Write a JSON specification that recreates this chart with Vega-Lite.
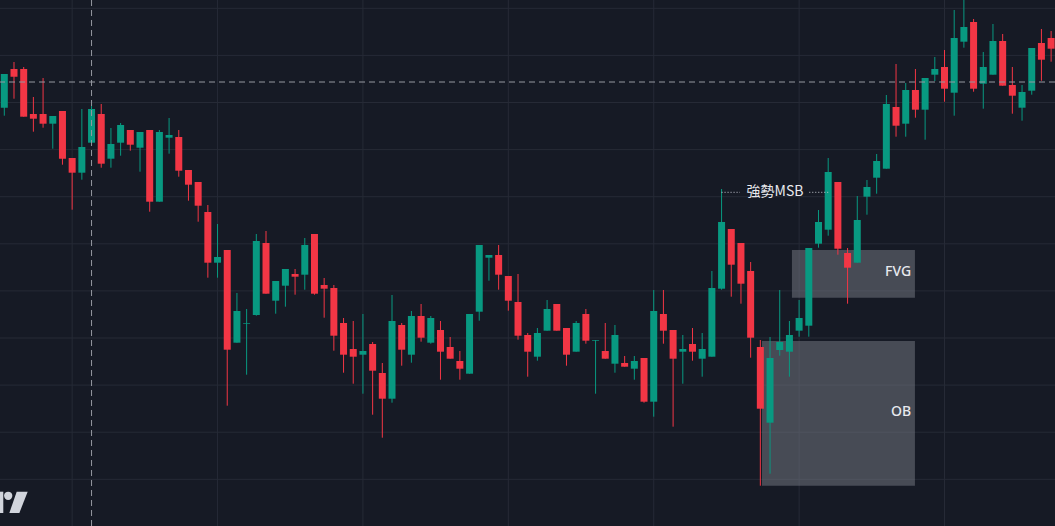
{
  "$schema": "https://vega.github.io/schema/vega-lite/v6.json",
  "width": 1055,
  "height": 526,
  "padding": 0,
  "autosize": {"type": "none"},
  "background": "#161A25",
  "config": {
    "view": {"stroke": null}
  },
  "datasets": {
    "candles": [
      {"i":0,"o":892.3,"h":926,"l":884.3,"c":926},
      {"i":1,"o":931,"h":938,"l":901.3,"c":923.3},
      {"i":2,"o":931,"h":933,"l":883.3,"c":883.3},
      {"i":3,"o":886,"h":903,"l":868.3,"c":881.3},
      {"i":4,"o":886,"h":922,"l":872.3,"c":876.3},
      {"i":5,"o":876.3,"h":884,"l":851.3,"c":884},
      {"i":6,"o":889,"h":889,"l":835.3,"c":841.3},
      {"i":7,"o":842,"h":842,"l":790.3,"c":827.3},
      {"i":8,"o":827.3,"h":891,"l":820.3,"c":853},
      {"i":9,"o":857.3,"h":894,"l":857.3,"c":891},
      {"i":10,"o":886,"h":896,"l":832.3,"c":836.3},
      {"i":11,"o":841.3,"h":872,"l":832.3,"c":856},
      {"i":12,"o":857.3,"h":877,"l":844.3,"c":875},
      {"i":13,"o":870,"h":870,"l":849.3,"c":855.3},
      {"i":14,"o":852.3,"h":868,"l":828.3,"c":868},
      {"i":15,"o":870,"h":870,"l":788.3,"c":798.3},
      {"i":16,"o":798.3,"h":870,"l":798.3,"c":868},
      {"i":17,"o":862.3,"h":882,"l":846.3,"c":865},
      {"i":18,"o":863,"h":870,"l":823.3,"c":829.3},
      {"i":19,"o":830,"h":830,"l":799.3,"c":815.3},
      {"i":20,"o":818,"h":818,"l":778.3,"c":794.3},
      {"i":21,"o":788,"h":795,"l":722.3,"c":737.3},
      {"i":22,"o":737.3,"h":776,"l":722.3,"c":743},
      {"i":23,"o":750,"h":750,"l":594.3,"c":650.3},
      {"i":24,"o":657.3,"h":707,"l":657.3,"c":689},
      {"i":25,"o":676.3,"h":691,"l":625.3,"c":677},
      {"i":26,"o":685,"h":766,"l":684.3,"c":759},
      {"i":27,"o":757,"h":769,"l":706.3,"c":706.3},
      {"i":28,"o":699.3,"h":719,"l":686.3,"c":719},
      {"i":29,"o":714.3,"h":731,"l":693.3,"c":731},
      {"i":30,"o":726,"h":731,"l":705.3,"c":723.3},
      {"i":31,"o":725.3,"h":762,"l":710.3,"c":755},
      {"i":32,"o":766,"h":766,"l":705.3,"c":706.3},
      {"i":33,"o":715,"h":722,"l":682.3,"c":711.3},
      {"i":34,"o":712,"h":715,"l":649.3,"c":664.3},
      {"i":35,"o":677,"h":682,"l":627.3,"c":645.3},
      {"i":36,"o":651,"h":679,"l":616.3,"c":643.3},
      {"i":37,"o":645.3,"h":686,"l":606.3,"c":649},
      {"i":38,"o":656,"h":658,"l":585.3,"c":629.3},
      {"i":39,"o":627,"h":637,"l":562.3,"c":601.3},
      {"i":40,"o":601.3,"h":705,"l":597.3,"c":679},
      {"i":41,"o":675,"h":677,"l":634.3,"c":650.3},
      {"i":42,"o":645.3,"h":689,"l":637.3,"c":684},
      {"i":43,"o":684,"h":696,"l":658.3,"c":662.3},
      {"i":44,"o":657.3,"h":684,"l":656.3,"c":682},
      {"i":45,"o":670,"h":679,"l":620.3,"c":648.3},
      {"i":46,"o":653,"h":663,"l":641.3,"c":641.3},
      {"i":47,"o":639,"h":649,"l":620.3,"c":631.3},
      {"i":48,"o":626.3,"h":686,"l":626.3,"c":686},
      {"i":49,"o":688.3,"h":755,"l":679.3,"c":755},
      {"i":50,"o":742.3,"h":745,"l":719.3,"c":745},
      {"i":51,"o":745,"h":755,"l":710.3,"c":725.3},
      {"i":52,"o":724,"h":724,"l":689.3,"c":699.3},
      {"i":53,"o":698,"h":726,"l":660.3,"c":664.3},
      {"i":54,"o":665,"h":667,"l":623.3,"c":648.3},
      {"i":55,"o":643.3,"h":672,"l":639.3,"c":667},
      {"i":56,"o":669.3,"h":700,"l":669.3,"c":691},
      {"i":57,"o":696,"h":696,"l":669.3,"c":669.3},
      {"i":58,"o":672,"h":672,"l":634.3,"c":645.3},
      {"i":59,"o":648.3,"h":679,"l":648.3,"c":677},
      {"i":60,"o":686,"h":691,"l":656.3,"c":659.3},
      {"i":61,"o":659.3,"h":660,"l":606.3,"c":660},
      {"i":62,"o":649,"h":677,"l":641.3,"c":641.3},
      {"i":63,"o":636.3,"h":675,"l":627.3,"c":665},
      {"i":64,"o":637,"h":644,"l":633.3,"c":633.3},
      {"i":65,"o":631.3,"h":644,"l":620.3,"c":639},
      {"i":66,"o":642,"h":642,"l":597.3,"c":598.3},
      {"i":67,"o":598.3,"h":710,"l":583.3,"c":689},
      {"i":68,"o":686,"h":710,"l":656.3,"c":669.3},
      {"i":69,"o":670,"h":670,"l":573.3,"c":641.3},
      {"i":70,"o":648.3,"h":665,"l":616.3,"c":651},
      {"i":71,"o":656,"h":672,"l":639.3,"c":648.3},
      {"i":72,"o":641.3,"h":667,"l":623.3,"c":651},
      {"i":73,"o":643.3,"h":729,"l":643.3,"c":712},
      {"i":74,"o":711.3,"h":811,"l":710.3,"c":778},
      {"i":75,"o":771,"h":771,"l":703.3,"c":735.3},
      {"i":76,"o":757,"h":757,"l":696.3,"c":716.3},
      {"i":77,"o":729,"h":738,"l":642.3,"c":662.3},
      {"i":78,"o":653,"h":660,"l":514.3,"c":591.3},
      {"i":79,"o":577.3,"h":663,"l":526.3,"c":642},
      {"i":80,"o":650,"h":710,"l":644.3,"c":658},
      {"i":81,"o":648.3,"h":679,"l":623.3,"c":665},
      {"i":82,"o":669.3,"h":700,"l":663.3,"c":682},
      {"i":83,"o":674.3,"h":752,"l":663.3,"c":752},
      {"i":84,"o":756.3,"h":790,"l":752.3,"c":778},
      {"i":85,"o":770.3,"h":842,"l":764.3,"c":828},
      {"i":86,"o":818,"h":818,"l":745.3,"c":751.3},
      {"i":87,"o":747,"h":752,"l":696.3,"c":732.3},
      {"i":88,"o":737.3,"h":804,"l":737.3,"c":780},
      {"i":89,"o":803.3,"h":820,"l":785.3,"c":813},
      {"i":90,"o":822.3,"h":846,"l":806.3,"c":839},
      {"i":91,"o":831.3,"h":905,"l":831.3,"c":896},
      {"i":92,"o":893,"h":936,"l":863.3,"c":874.3},
      {"i":93,"o":876.3,"h":917,"l":863.3,"c":910},
      {"i":94,"o":910,"h":931,"l":882.3,"c":890.3},
      {"i":95,"o":890.3,"h":922,"l":860.3,"c":922},
      {"i":96,"o":925.3,"h":943,"l":919,"c":931},
      {"i":97,"o":933,"h":950,"l":898.3,"c":911.3},
      {"i":98,"o":907.3,"h":990,"l":884.3,"c":962},
      {"i":99,"o":958.3,"h":1003,"l":952.3,"c":973},
      {"i":100,"o":978,"h":981,"l":908.3,"c":911.3},
      {"i":101,"o":916.3,"h":948,"l":891.3,"c":933},
      {"i":102,"o":925.3,"h":976,"l":925.3,"c":959},
      {"i":103,"o":959,"h":966,"l":914.3,"c":914.3},
      {"i":104,"o":915,"h":933,"l":886.3,"c":904.3},
      {"i":105,"o":892.3,"h":915,"l":879.3,"c":908},
      {"i":106,"o":909.3,"h":952,"l":905.3,"c":952},
      {"i":107,"o":957,"h":971,"l":919.3,"c":940.3},
      {"i":108,"o":962,"h":969,"l":938.3,"c":951.3}
    ],
    "gridx": [{"t":7},{"t":22},{"t":37},{"t":52},{"t":67},{"t":82},{"t":97}],
    "gridy": [{"p":991.7},{"p":944.6},{"p":897.5},{"p":850.4},{"p":803.3},{"p":756.2},{"p":709.1},{"p":662.0},{"p":614.9},{"p":567.8},{"p":520.7}],
    "zones": [
      {"name":"FVG","t1":81.26,"t2":93.95,"p1":750,"p2":702.3,"lt":93.55,"lp":728},
      {"name":"OB","t1":78.17,"t2":93.95,"p1":659,"p2":514.3,"lt":93.55,"lp":588}
    ],
    "msb": [
      {"t1":74.0,"t2":75.9,"p":807.7},
      {"t1":83.05,"t2":85.0,"p":807.7}
    ],
    "msblabel": [{"t":79.51,"p":808,"label":"強勢MSB"}],
    "cross": [{"t":9,"p":918}],
    "logobar": [{"t":-0.274,"p":497.65}],
    "logodot": [{"t":0.402,"p":504.2}],
    "logoslash": [{"t":1.465,"p":497.65}]
  },
  "layer": [
    {
      "data": {"name": "gridx"},
      "mark": {"type": "rule", "strokeWidth": 1, "color": "#262A36"},
      "encoding": {
        "x": {"field": "t", "type": "quantitative", "scale": {"domain": [-0.444, 108.4], "nice": false, "zero": false, "padding": 0}, "axis": null}
      }
    },
    {
      "data": {"name": "gridy"},
      "mark": {"type": "rule", "strokeWidth": 1, "color": "#262A36"},
      "encoding": {
        "y": {"field": "p", "type": "quantitative", "scale": {"domain": [474, 1000], "nice": false, "zero": false, "padding": 0}, "axis": null}
      }
    },
    {
      "data": {"name": "zones"},
      "mark": {"type": "rect", "color": "#787B86", "opacity": 0.5},
      "encoding": {
        "x": {"field": "t1", "type": "quantitative", "scale": {"domain": [-0.444, 108.4], "nice": false, "zero": false, "padding": 0}, "axis": null},
        "x2": {"field": "t2"},
        "y": {"field": "p1", "type": "quantitative", "scale": {"domain": [474, 1000], "nice": false, "zero": false, "padding": 0}, "axis": null},
        "y2": {"field": "p2"}
      }
    },
    {
      "data": {"name": "candles"},
      "mark": {"type": "rule", "strokeWidth": 1},
      "encoding": {
        "x": {"field": "i", "type": "quantitative", "scale": {"domain": [-0.444, 108.4], "nice": false, "zero": false, "padding": 0}, "axis": null},
        "y": {"field": "l", "type": "quantitative", "scale": {"domain": [474, 1000], "nice": false, "zero": false, "padding": 0}, "axis": null},
        "y2": {"field": "h"},
        "color": {"condition": {"test": "datum.c >= datum.o", "value": "#089981"}, "value": "#F23645"}
      }
    },
    {
      "data": {"name": "candles"},
      "mark": {"type": "bar", "orient": "vertical", "size": 7},
      "encoding": {
        "x": {"field": "i", "type": "quantitative", "scale": {"domain": [-0.444, 108.4], "nice": false, "zero": false, "padding": 0}, "axis": null},
        "y": {"field": "o", "type": "quantitative", "scale": {"domain": [474, 1000], "nice": false, "zero": false, "padding": 0}, "axis": null},
        "y2": {"field": "c"},
        "color": {"condition": {"test": "datum.c >= datum.o", "value": "#089981"}, "value": "#F23645"}
      }
    },
    {
      "data": {"name": "zones"},
      "mark": {"type": "text", "align": "right", "baseline": "middle", "font": "Noto Sans", "fontSize": 14, "fontWeight": 500, "color": "#E8E9EE"},
      "encoding": {
        "x": {"field": "lt", "type": "quantitative", "scale": {"domain": [-0.444, 108.4], "nice": false, "zero": false, "padding": 0}, "axis": null},
        "y": {"field": "lp", "type": "quantitative", "scale": {"domain": [474, 1000], "nice": false, "zero": false, "padding": 0}, "axis": null},
        "text": {"field": "name"}
      }
    },
    {
      "data": {"name": "msb"},
      "mark": {"type": "rule", "strokeWidth": 1, "strokeDash": [1, 2], "color": "#C9CCD6"},
      "encoding": {
        "x": {"field": "t1", "type": "quantitative", "scale": {"domain": [-0.444, 108.4], "nice": false, "zero": false, "padding": 0}, "axis": null},
        "x2": {"field": "t2"},
        "y": {"field": "p", "type": "quantitative", "scale": {"domain": [474, 1000], "nice": false, "zero": false, "padding": 0}, "axis": null}
      }
    },
    {
      "data": {"name": "msblabel"},
      "mark": {"type": "text", "align": "center", "baseline": "middle", "font": "Noto Sans CJK TC", "fontSize": 14, "color": "#E8E9EE"},
      "encoding": {
        "x": {"field": "t", "type": "quantitative", "scale": {"domain": [-0.444, 108.4], "nice": false, "zero": false, "padding": 0}, "axis": null},
        "y": {"field": "p", "type": "quantitative", "scale": {"domain": [474, 1000], "nice": false, "zero": false, "padding": 0}, "axis": null},
        "text": {"field": "label"}
      }
    },
    {
      "data": {"name": "cross"},
      "mark": {"type": "rule", "strokeWidth": 1, "strokeDash": [6, 4], "color": "#9598A1"},
      "encoding": {
        "x": {"field": "t", "type": "quantitative", "scale": {"domain": [-0.444, 108.4], "nice": false, "zero": false, "padding": 0}, "axis": null}
      }
    },
    {
      "data": {"name": "cross"},
      "mark": {"type": "rule", "strokeWidth": 1, "strokeDash": [6, 4], "color": "#9598A1"},
      "encoding": {
        "y": {"field": "p", "type": "quantitative", "scale": {"domain": [474, 1000], "nice": false, "zero": false, "padding": 0}, "axis": null}
      }
    },
    {
      "data": {"name": "logobar"},
      "mark": {"type": "point", "filled": true, "color": "#D1D4DC", "opacity": 1, "strokeWidth": 0, "size": 454, "shape": "M-0.155,-1L0.155,-1L0.155,1L-0.155,1Z"},
      "encoding": {
        "x": {"field": "t", "type": "quantitative", "scale": {"domain": [-0.444, 108.4], "nice": false, "zero": false, "padding": 0}, "axis": null},
        "y": {"field": "p", "type": "quantitative", "scale": {"domain": [474, 1000], "nice": false, "zero": false, "padding": 0}, "axis": null}
      }
    },
    {
      "data": {"name": "logodot"},
      "mark": {"type": "point", "filled": true, "color": "#D1D4DC", "opacity": 1, "strokeWidth": 0, "size": 69, "shape": "circle"},
      "encoding": {
        "x": {"field": "t", "type": "quantitative", "scale": {"domain": [-0.444, 108.4], "nice": false, "zero": false, "padding": 0}, "axis": null},
        "y": {"field": "p", "type": "quantitative", "scale": {"domain": [474, 1000], "nice": false, "zero": false, "padding": 0}, "axis": null}
      }
    },
    {
      "data": {"name": "logoslash"},
      "mark": {"type": "point", "filled": true, "color": "#D1D4DC", "opacity": 1, "strokeWidth": 0, "size": 454, "shape": "M-0.17,-1L0.86,-1L0.08,1L-0.86,1Z"},
      "encoding": {
        "x": {"field": "t", "type": "quantitative", "scale": {"domain": [-0.444, 108.4], "nice": false, "zero": false, "padding": 0}, "axis": null},
        "y": {"field": "p", "type": "quantitative", "scale": {"domain": [474, 1000], "nice": false, "zero": false, "padding": 0}, "axis": null}
      }
    }
  ]
}
